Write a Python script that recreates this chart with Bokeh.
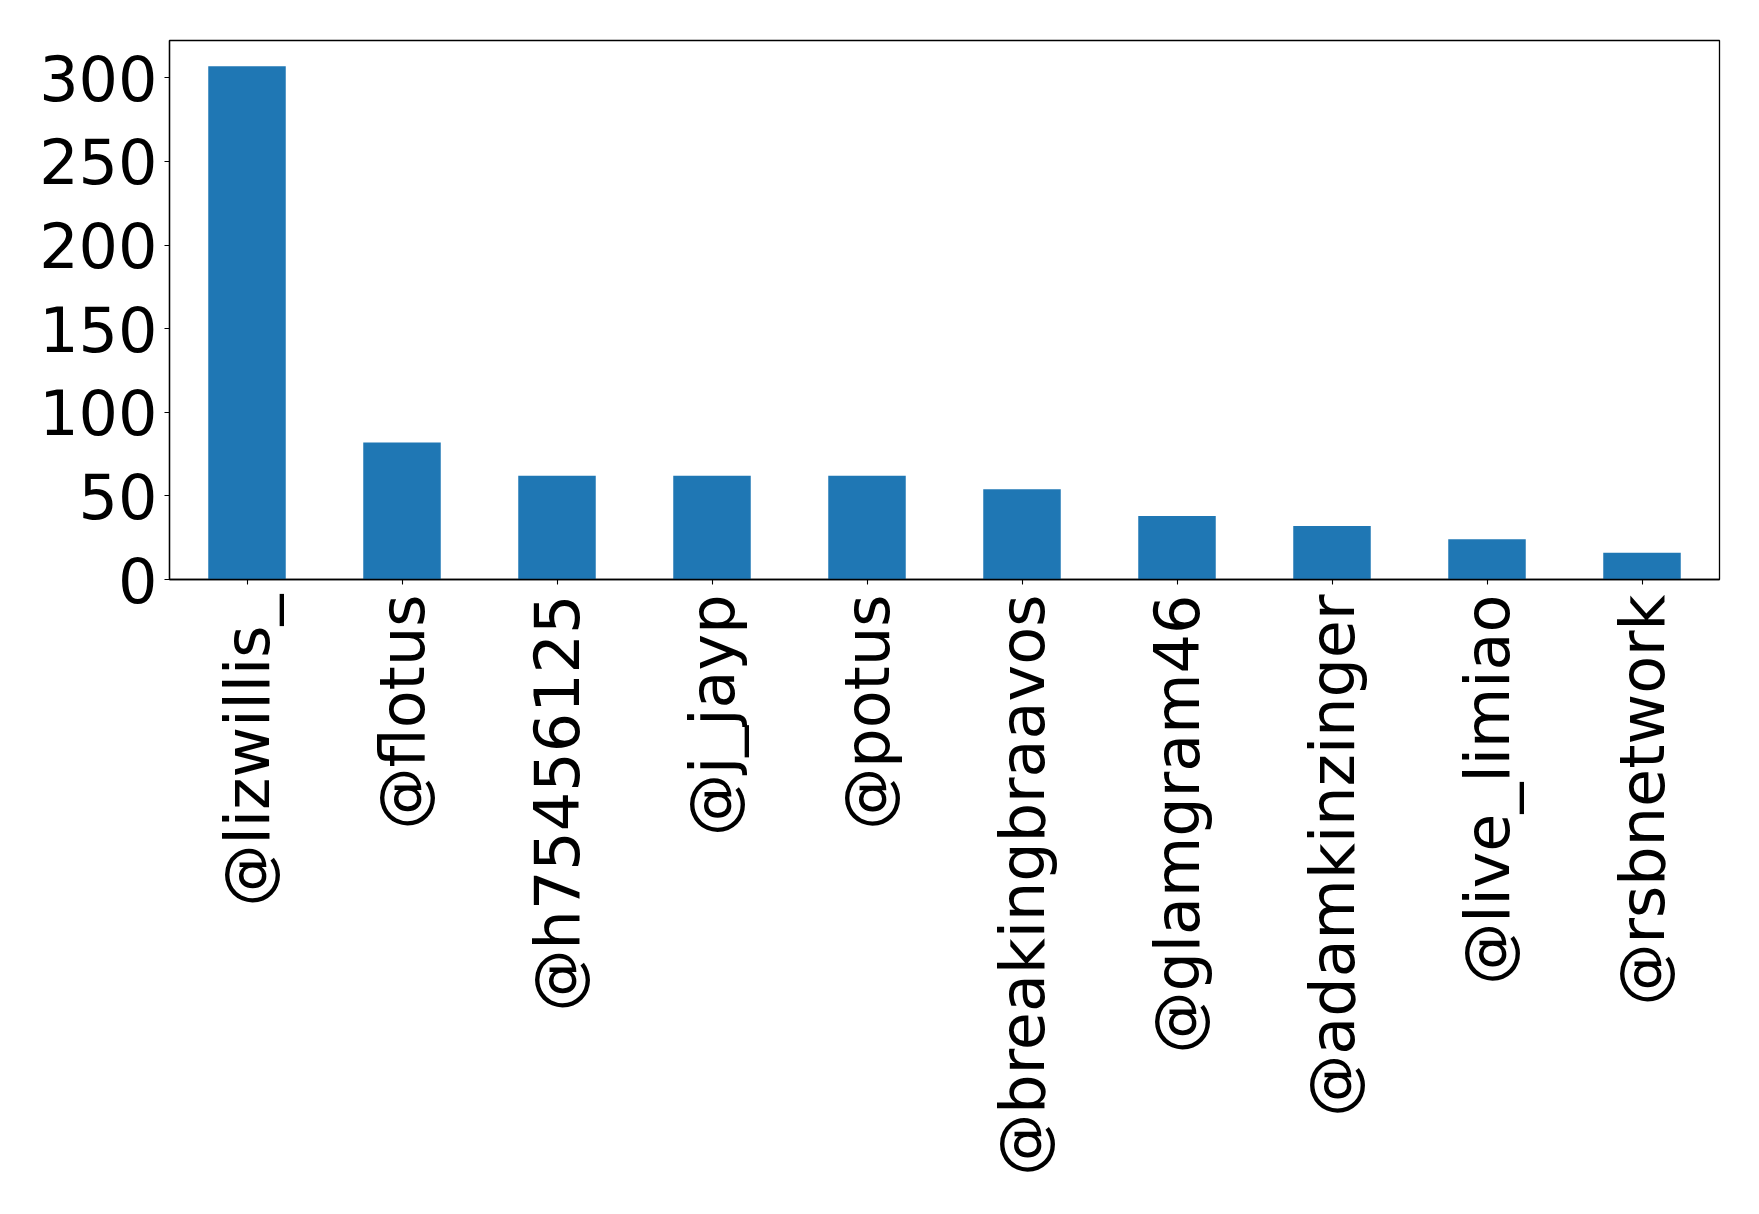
import math

from bokeh.embed import file_html
from bokeh.models import FactorRange, FixedTicker, Range1d
from bokeh.plotting import figure
from bokeh.resources import INLINE

# Most-mentioned accounts and their mention counts
accounts = [
    "@lizwillis_",
    "@flotus",
    "@h75456125",
    "@j_jayp",
    "@potus",
    "@breakingbraavos",
    "@glamgram46",
    "@adamkinzinger",
    "@live_limiao",
    "@rsbnetwork",
]
mentions = [307, 82, 62, 62, 62, 54, 38, 32, 24, 16]
y_ticks = [0, 50, 100, 150, 200, 250, 300]

p = figure(
    width=1759,
    height=1214,
    x_range=FactorRange(factors=accounts, range_padding=0),
    y_range=Range1d(0, max(mentions) * 1.05),
    output_backend="svg",
    toolbar_location=None,
    min_border_left=169,
    min_border_right=40,
    min_border_top=40,
    min_border_bottom=635,
)

p.vbar(x=accounts, top=mentions, width=0.5, color="#1f77b4", line_color=None)

p.xgrid.visible = False
p.ygrid.visible = False
p.outline_line_color = "black"
p.outline_line_width = 1.3
p.background_fill_color = "white"
p.border_fill_color = "white"

p.yaxis.ticker = FixedTicker(ticks=y_ticks)
p.yaxis.minor_tick_line_color = None

for ax in (p.xaxis[0], p.yaxis[0]):
    ax.axis_line_color = "black"
    ax.axis_line_width = 1.3
    ax.major_tick_line_color = "black"
    ax.major_tick_line_width = 1.1
    ax.major_tick_in = 0
    ax.major_tick_out = 5
    ax.major_label_text_font = "DejaVu Sans"
    ax.major_label_text_font_size = "62px"
    ax.major_label_text_color = "black"

p.yaxis.major_label_standoff = 7
p.xaxis.major_label_standoff = 10
p.xaxis.major_label_orientation = math.pi / 2

open("out.html", "w").write(file_html(p, INLINE))
